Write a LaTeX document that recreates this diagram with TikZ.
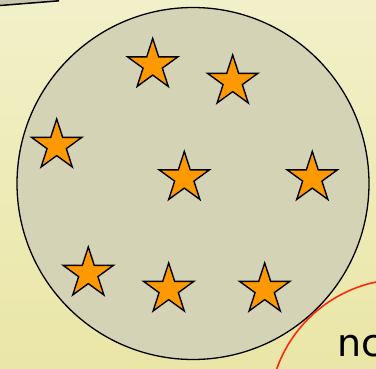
\documentclass[tikz,border=0pt]{standalone}
\usepackage{fontspec}
\setmainfont{DejaVu Sans}
\usetikzlibrary{shapes.geometric}
\definecolor{bgtop}{HTML}{F2F0C9}
\definecolor{bgbot}{HTML}{EAE6A7}
\definecolor{disc}{HTML}{D4D3B6}
\definecolor{starfill}{HTML}{FF9900}
\definecolor{arcred}{HTML}{FF2A0A}
\tikzset{
  orangestar/.style={star, star points=5, star point ratio=2.618, minimum size=53pt,
    inner sep=0pt, draw=black, line width=1.4pt, fill=starfill, line join=miter},
}
\begin{document}
\begin{tikzpicture}[x=1pt,y=-1pt]
\useasboundingbox (0,0) rectangle (376,369);
\clip (0,0) rectangle (376,369);
\shade[top color=bgtop, bottom color=bgbot] (0,0) rectangle (376,369);
% top-left partial shape
\path[fill=disc!85!gray] (0,-2) -- (0,5.5) -- (59,0.8) -- (59,-2) -- cycle;
\draw[line width=1.5pt] (0,5.5) -- (59,0.8);
% big disc
\node[circle, draw=black, line width=1.3pt, fill=disc, minimum size=352pt, inner sep=0pt] (disc) at (193,183.5) {};
% red circle
\node[circle, draw=arcred, line width=1.6pt, minimum size=269pt, inner sep=0pt] (redc) at (403.6,413.7) {};
% stars
\node[orangestar] (s1) at (152.7,65) {};
\node[orangestar] (s2) at (232.7,81.5) {};
\node[orangestar] (s3) at (56.7,145.5) {};
\node[orangestar] (s4) at (184.3,178) {};
\node[orangestar] (s5) at (312.3,178) {};
\node[orangestar] (s6) at (88.3,273.5) {};
\node[orangestar] (s7) at (168.7,289.5) {};
\node[orangestar] (s8) at (264.7,289.5) {};
% text
\node[anchor=base west, inner sep=0pt, font=\fontsize{38}{44}\selectfont] (txt) at (337,356.7) {nc};
\end{tikzpicture}
\end{document}
